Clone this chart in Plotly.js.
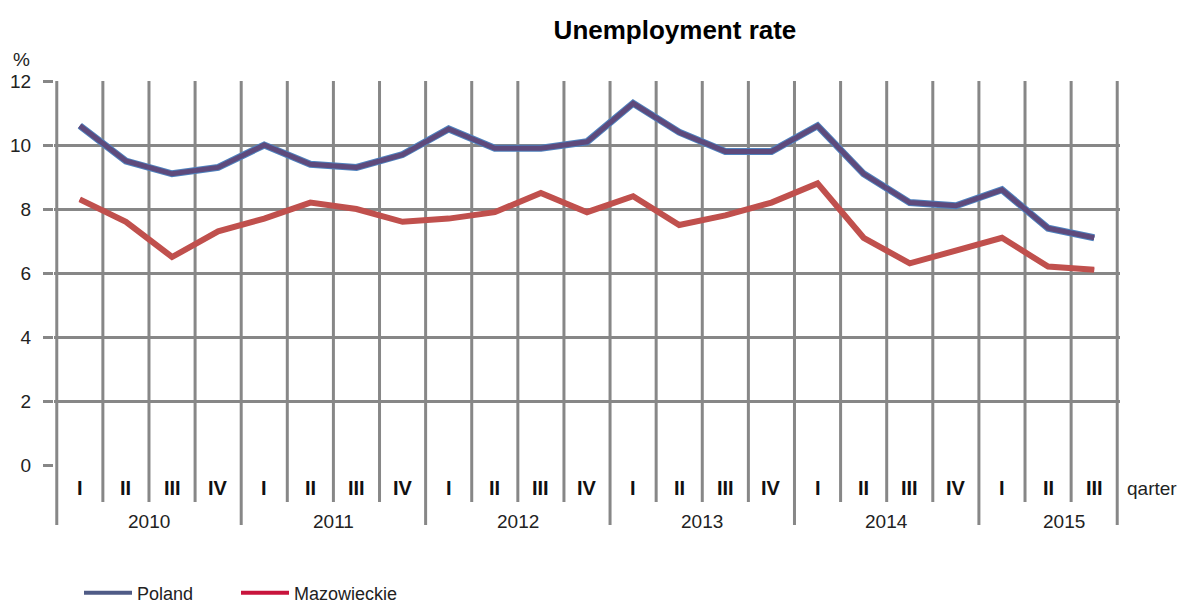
<!DOCTYPE html>
<html>
<head>
<meta charset="utf-8">
<script src="https://cdn.plot.ly/plotly-3.0.1.min.js"></script>
<style>html,body{margin:0;padding:0;background:#fff;}#chart{width:1179px;height:604px;}</style>
</head>
<body>
<div id="chart"></div>
<script>
// ---- data ----
var quarters = ["I","II","III","IV","I","II","III","IV","I","II","III","IV","I","II","III","IV","I","II","III","IV","I","II","III"];
var years = ["2010","2011","2012","2013","2014","2015"];
var quartersPerYear = [4,4,4,4,4,3];
var poland = [10.6,9.5,9.1,9.3,10.0,9.4,9.3,9.7,10.5,9.9,9.9,10.1,11.3,10.4,9.8,9.8,10.6,9.1,8.2,8.1,8.6,7.4,7.1];
var mazowieckie = [8.3,7.6,6.5,7.3,7.7,8.2,8.0,7.6,7.7,7.9,8.5,7.9,8.4,7.5,7.8,8.2,8.8,7.1,6.3,6.7,7.1,6.2,6.1];
var yTicks = [0,2,4,6,8,10,12];

// ---- build ----
var FONT = "Liberation Sans, Arial, sans-serif";
var GRID = "#878787";
var idx = quarters.map(function(_, i){ return i; });

var traces = [
  {x: idx, y: poland, name: "Poland", mode: "lines", legend: "legend",
   line: {color: "#4f5b86", width: 4}, hoverinfo: "skip"},
  {x: idx, y: mazowieckie, name: "Mazowieckie", mode: "lines", legend: "legend2",
   line: {color: "#c8143c", width: 4}, hoverinfo: "skip"},
  {x: idx, y: poland, name: "Poland", mode: "lines", showlegend: false,
   line: {color: "#4f81bd", width: 7}},
  {x: idx, y: poland, name: "Poland", mode: "lines", showlegend: false,
   line: {color: "#5e4a7c", width: 5}},
  {x: idx, y: mazowieckie, name: "Mazowieckie", mode: "lines", showlegend: false,
   line: {color: "#c0504d", width: 6}}
];

// vertical category-boundary lines (quarter & year dividers)
var shapes = [];
var yearStarts = [];
var acc = 0;
quartersPerYear.forEach(function(n){ yearStarts.push(acc); acc += n; });
for (var i = 0; i <= quarters.length; i++) {
  var isYear = yearStarts.indexOf(i) >= 0 || i === quarters.length;
  shapes.push({type: "line", xref: "x", yref: "paper", layer: "below",
    x0: i - 0.5, x1: i - 0.5, y0: isYear ? -0.156 : -0.0964, y1: 1,
    line: {color: GRID, width: 3}});
}

var annotations = [];
quarters.forEach(function(q, i){
  annotations.push({x: i, y: -0.06, xref: "x", yref: "paper", text: q, showarrow: false,
    xanchor: "center", yanchor: "middle", font: {family: FONT, size: 20, color: "#111", weight: "bold"}});
});
years.forEach(function(yr, k){
  var n = quartersPerYear[k];
  var c = yearStarts[k] + (n - 1) / 2;
  annotations.push({x: c, y: -0.148, xref: "x", yref: "paper", text: yr, showarrow: false,
    xanchor: "center", yanchor: "middle", xshift: n < 4 ? 16 : 0,
    font: {family: FONT, size: 19, color: "#222"}});
});
annotations.push({x: 1.005, y: -0.06, xref: "paper", yref: "paper", text: "qarter", showarrow: false,
  xanchor: "left", yanchor: "middle", font: {family: FONT, size: 19, color: "#222"}});
annotations.push({x: -0.0302, y: 1.055, xref: "paper", yref: "paper", text: "%", showarrow: false,
  xanchor: "center", yanchor: "middle", font: {family: FONT, size: 19, color: "#222"}});

var legendBase = {orientation: "h", xanchor: "left", y: 0.018, xref: "container", yref: "container",
  yanchor: "middle", itemwidth: 48, bgcolor: "rgba(0,0,0,0)",
  font: {family: FONT, size: 18, color: "#222"}};

var layout = {
  width: 1179, height: 604,
  margin: {l: 54, r: 59, t: 81, b: 139, pad: 0, autoexpand: false},
  paper_bgcolor: "#fff", plot_bgcolor: "#fff",
  font: {family: FONT, size: 19, color: "#222"},
  title: {text: "<b>Unemployment rate</b>", x: 0.5725, xref: "container", xanchor: "center",
          y: 0.95, yref: "container", yanchor: "middle",
          font: {family: FONT, size: 26, color: "#000"}},
  xaxis: {range: [-0.56, quarters.length - 1 + 0.56], showgrid: false, zeroline: false,
          showline: false, showticklabels: false, ticks: "", fixedrange: true},
  yaxis: {range: [0, 12], tickvals: yTicks, showgrid: true, gridcolor: GRID, gridwidth: 3,
          zeroline: false, showline: false, ticks: "outside", ticklen: 10, tickwidth: 3,
          tickcolor: GRID, ticklabelstandoff: 8, tickfont: {family: FONT, size: 19, color: "#222"},
          fixedrange: true},
  showlegend: true,
  legend: Object.assign({}, legendBase, {x: 79 / 1179}),
  legend2: Object.assign({}, legendBase, {x: 236 / 1179}),
  shapes: shapes,
  annotations: annotations
};

Plotly.newPlot("chart", traces, layout, {displayModeBar: false, staticPlot: true});
</script>
</body>
</html>
